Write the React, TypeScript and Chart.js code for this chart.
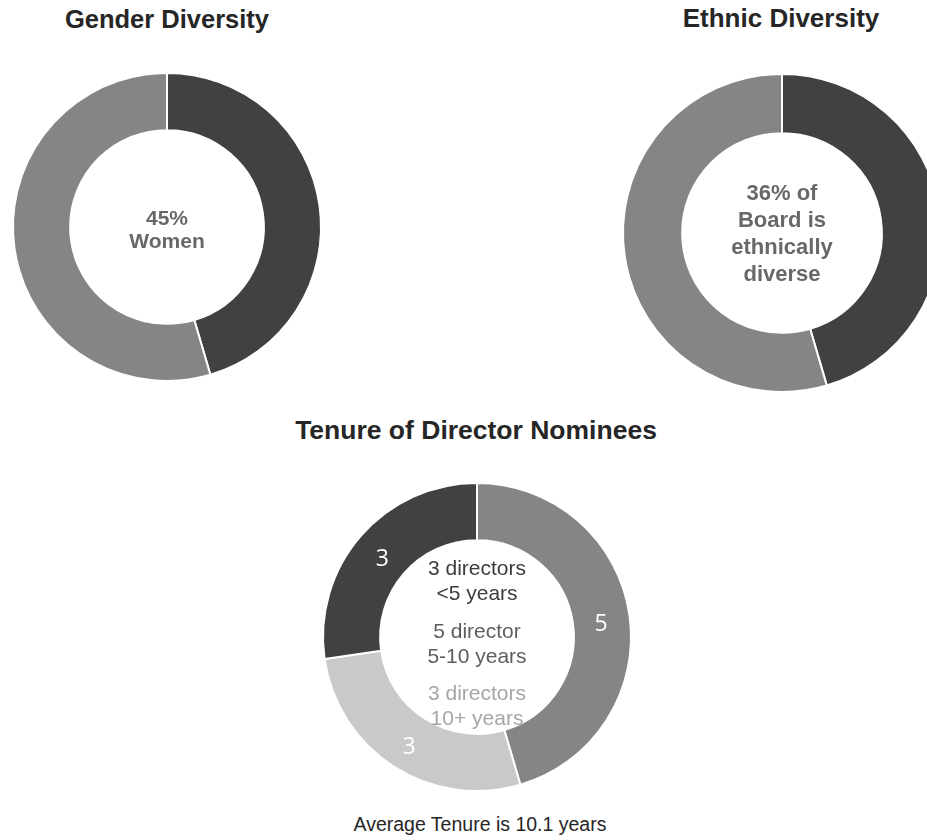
import React, { useEffect, useRef } from "react";
import { Chart, registerables } from "chart.js";

Chart.register(...registerables);

const DARK = "#414141";
const MID = "#858585";
const LIGHT = "#c9c9c9";

// Gender diversity (directors)
const genderLabels = ["Women", "Men"];
const genderValues = [5, 6];
const genderColors = [DARK, MID];
const genderCenter = ["45%", "Women"];

// Ethnic diversity (directors)
const ethnicLabels = ["Ethnically diverse", "Other"];
const ethnicValues = [5, 6];
const ethnicColors = [DARK, MID];
const ethnicCenter = ["36% of", "Board is", "ethnically", "diverse"];

// Tenure of director nominees
const tenureLabels = ["5-10 years", "10+ years", "<5 years"];
const tenureValues = [5, 3, 3];
const tenureColors = [MID, LIGHT, DARK];
const tenureCenter = ["3 directors", "<5 years", "5 director", "5-10 years", "3 directors", "10+ years"];
const tenureCenterColors = ["#3c3c3c", "#3c3c3c", "#5e5e5e", "#5e5e5e", "#a6a6a6", "#a6a6a6"];

const ARIAL = "'Liberation Sans', Arial, sans-serif";

const valuePlugin = {
  id: "valueLabels",
  afterDatasetsDraw(chart: any, _args: any, opts: any) {
    if (!opts || !opts.show) return;
    const ctx = chart.ctx;
    const meta = chart.getDatasetMeta(0);
    const vals = chart.data.datasets[0].data;
    ctx.save();
    ctx.font = "23px 'Open Sans', sans-serif";
    ctx.fillStyle = "#ffffff";
    ctx.textAlign = "center";
    ctx.textBaseline = "middle";
    meta.data.forEach((arc: any, i: number) => {
      const p = arc.tooltipPosition(false);
      ctx.fillText(String(vals[i]), p.x, p.y + 5);
    });
    ctx.restore();
  },
};

type DP = {
  labels: string[];
  values: number[];
  colors: string[];
  cx: number;
  cy: number;
  radius: number;
  cutout: number;
  showValues?: boolean;
};

function Doughnut({ labels, values, colors, cx, cy, radius, cutout, showValues }: DP) {
  const ref = useRef<HTMLCanvasElement | null>(null);
  const size = radius * 2 + 12;
  useEffect(() => {
    if (!ref.current) return;
    const chart = new Chart(ref.current, {
      type: "doughnut",
      data: {
        labels,
        datasets: [
          {
            data: values,
            backgroundColor: colors,
            borderColor: "#ffffff",
            borderWidth: 2,
          },
        ],
      },
      options: {
        responsive: false,
        animation: false,
        radius,
        cutout,
        layout: { padding: 0 },
        plugins: {
          legend: { display: false },
          tooltip: { enabled: false },
          valueLabels: { show: !!showValues },
        } as any,
      },
      plugins: [valuePlugin as any],
    });
    return () => chart.destroy();
  }, []);
  return (
    <canvas
      ref={ref}
      width={size}
      height={size}
      style={{ position: "absolute", left: cx - size / 2, top: cy - size / 2, width: size, height: size }}
    />
  );
}

function TextLine({ text, x, y, size, weight, color, width = 260 }: any) {
  return (
    <div
      style={{
        position: "absolute",
        left: x - width / 2,
        top: y - size * 0.6,
        width,
        height: size * 1.2,
        lineHeight: `${size * 1.2}px`,
        textAlign: "center",
        fontFamily: ARIAL,
        fontSize: size,
        fontWeight: weight,
        color,
        whiteSpace: "nowrap",
      }}
    >
      {text}
    </div>
  );
}

export default function App() {
  return (
    <div
      style={{
        position: "absolute",
        left: 0,
        top: 0,
        width: 927,
        height: 840,
        overflow: "hidden",
        background: "#ffffff",
      }}
    >
      <TextLine text="Gender Diversity" x={167} y={19} size={25.5} weight="bold" color="#262626" />
      <TextLine text="Ethnic Diversity" x={781} y={19} size={26} weight="bold" color="#262626" />
      <TextLine text="Tenure of Director Nominees" x={476} y={431} size={26.5} weight="bold" color="#262626" width={440} />

      <Doughnut labels={genderLabels} values={genderValues} colors={genderColors} cx={167} cy={227} radius={154} cutout={100} />
      <Doughnut labels={ethnicLabels} values={ethnicValues} colors={ethnicColors} cx={782} cy={233} radius={159} cutout={103} />
      <Doughnut labels={tenureLabels} values={tenureValues} colors={tenureColors} cx={477} cy={637} radius={154} cutout={100} showValues />

      {genderCenter.map((t, i) => (
        <TextLine key={"g" + i} text={t} x={167} y={218 + i * 23} size={21} weight="bold" color="#686868" />
      ))}
      {ethnicCenter.map((t, i) => (
        <TextLine key={"e" + i} text={t} x={782} y={193 + i * 27} size={22} weight="bold" color="#686868" />
      ))}
      {tenureCenter.map((t, i) => (
        <TextLine
          key={"t" + i}
          text={t}
          x={477}
          y={568 + i * 25 + Math.floor(i / 2) * 12.5}
          size={21}
          weight="normal"
          color={tenureCenterColors[i]}
        />
      ))}
      <TextLine text="Average Tenure is 10.1 years" x={480} y={825} size={19.5} weight="normal" color="#262626" width={360} />
    </div>
  );
}
